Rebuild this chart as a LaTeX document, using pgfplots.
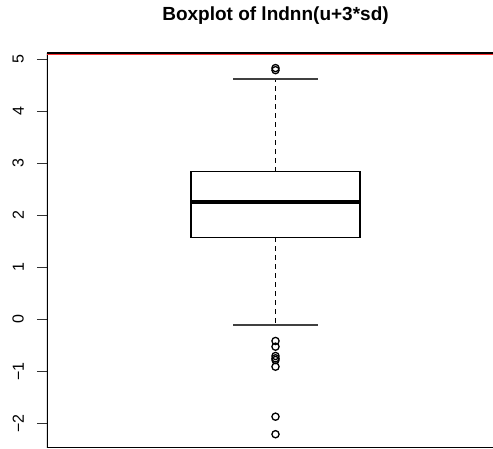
\documentclass[border=0pt]{standalone}
\usepackage{pgfplots}
\pgfplotsset{compat=1.18}
\usepgfplotslibrary{statistics}
\usepackage{fontspec}
\setmainfont{Liberation Sans}
\begin{document}
\begin{tikzpicture}[x=1pt,y=1pt]
\useasboundingbox (0,0) rectangle (493,449);
\begin{axis}[
  at={(47pt,1pt)}, anchor=south west,
  scale only axis, width=446pt, height=395pt,
  xmin=47, xmax=493, ymin=-2.475, ymax=5.12,
  axis line style={draw=none},
  xtick=\empty,
  ytick={-2,-1,0,1,2,3,4,5},
  yticklabels={−2,−1,0,1,2,3,4,5},
  tick align=outside, major tick length=10pt,
  ytick style={black!80, line width=1pt},
  yticklabel style={font=\fontsize{16}{19}\selectfont, inner sep=0pt, anchor=south, xshift=-13pt, rotate=90},
  title={\fontsize{19}{23}\selectfont\bfseries Boxplot of lndnn(u+3*sd)},
  title style={at={(rel axis cs:0.5123,1)}, anchor=south, yshift=19pt},
  clip=true,
  boxplot/draw direction=y,
]
\draw[black, line width=1.1pt] (rel axis cs:0,1) -- (rel axis cs:0,0) -- (rel axis cs:1,0);
\draw[black, line width=1.1pt] (rel axis cs:0,1) -- (rel axis cs:1,1);
\addplot[red!80, line width=1.6pt] coordinates {(47,5.09) (493,5.09)};
\addplot[black, line width=1.1pt,
  mark=o, mark size=3.6pt, mark options={solid, line width=1.3pt},
  boxplot prepared={
    draw position=275.5,
    median=2.262, upper quartile=2.838, lower quartile=1.577,
    upper whisker=4.621, lower whisker=-0.11,
    box extend=169, whisker extend=85,
  },
  boxplot/draw/median/.code={%
    \draw[black, line width=3.8pt] (boxplot box cs:\pgfplotsboxplotvalue{median},0) -- (boxplot box cs:\pgfplotsboxplotvalue{median},1);},
  boxplot/draw/lower whisker/.code={%
    \draw[black, line width=1.1pt, dash pattern=on 4.5pt off 4.5pt] (boxplot box cs:\pgfplotsboxplotvalue{lower quartile},0.5) -- (boxplot box cs:\pgfplotsboxplotvalue{lower whisker},0.5);
    \draw[black!75, line width=1.4pt] (boxplot whisker cs:\pgfplotsboxplotvalue{lower whisker},0) -- (boxplot whisker cs:\pgfplotsboxplotvalue{lower whisker},1);},
  boxplot/draw/upper whisker/.code={%
    \draw[black, line width=1.1pt, dash pattern=on 4.5pt off 4.5pt] (boxplot box cs:\pgfplotsboxplotvalue{upper quartile},0.5) -- (boxplot box cs:\pgfplotsboxplotvalue{upper whisker},0.5);
    \draw[black!75, line width=1.4pt] (boxplot whisker cs:\pgfplotsboxplotvalue{upper whisker},0) -- (boxplot whisker cs:\pgfplotsboxplotvalue{upper whisker},1);},
] table[row sep=\\, y index=0] {
4.83\\ 4.79\\ -0.417\\ -0.527\\ -0.706\\ -0.75\\ -0.783\\ -0.912\\ -1.873\\ -2.21\\
};
\end{axis}
\end{tikzpicture}
\end{document}
